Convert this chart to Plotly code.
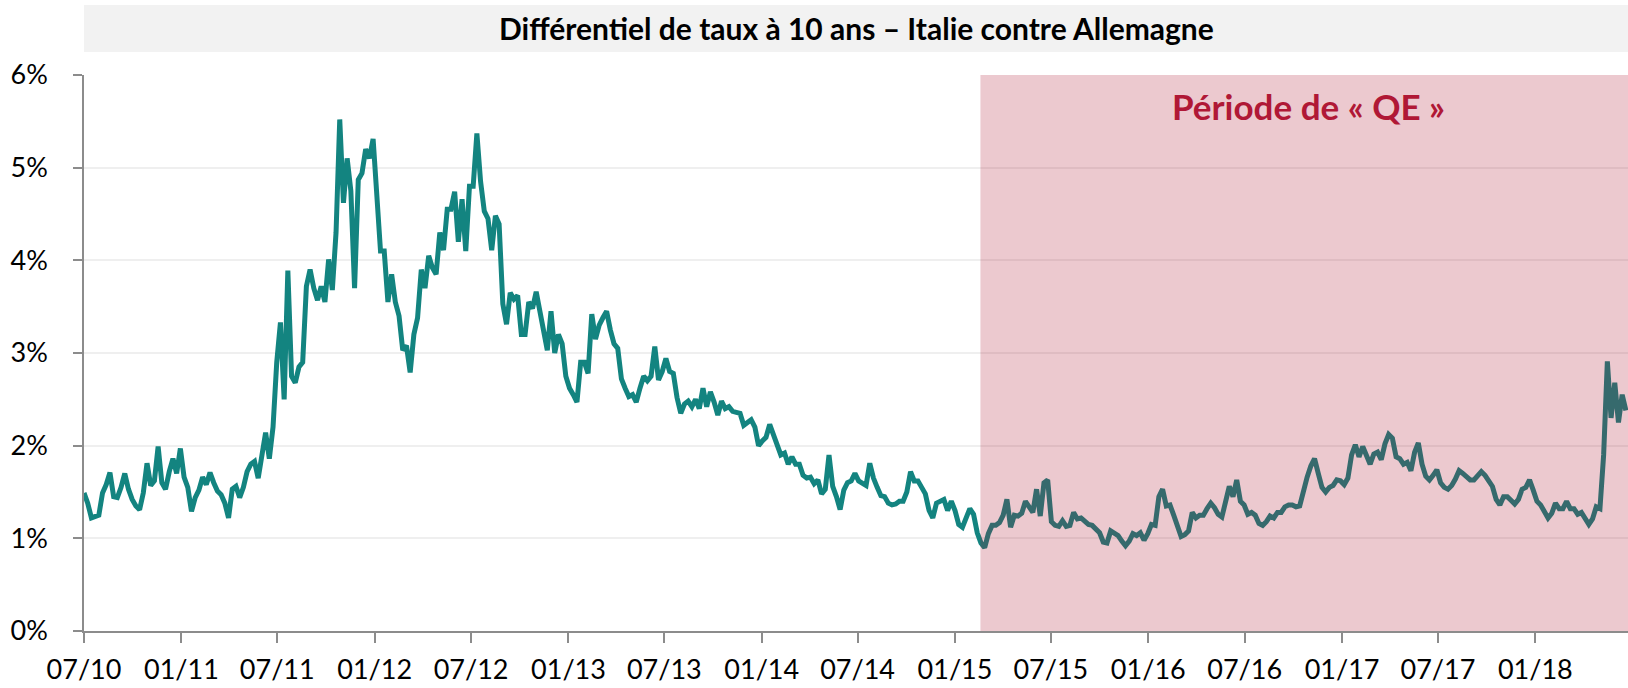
import pandas as pd
import plotly.graph_objects as go

# Weekly observations of the 10-year Italy-Germany yield spread (in %)
START_DATE = "2010-07-01"
QE_START = "2015-02-18"
X_END = "2018-06-25"

spread = [
    1.49, 1.38, 1.22, 1.24, 1.25, 1.49, 1.58, 1.71, 1.45, 1.44,
    1.55, 1.70, 1.53, 1.42, 1.35, 1.31, 1.49, 1.81, 1.57, 1.62,
    1.99, 1.60, 1.53, 1.72, 1.86, 1.70, 1.97, 1.66, 1.55, 1.29,
    1.44, 1.52, 1.66, 1.58, 1.71, 1.60, 1.51, 1.47, 1.38, 1.22,
    1.53, 1.56, 1.44, 1.55, 1.72, 1.80, 1.83, 1.65, 1.86, 2.14,
    1.86, 2.20, 2.90, 3.33, 2.50, 3.89, 2.75, 2.68, 2.85, 2.90,
    3.72, 3.90, 3.70, 3.57, 3.72, 3.55, 4.01, 3.68, 4.30, 5.52,
    4.62, 5.10, 4.75, 3.70, 4.87, 4.94, 5.20, 5.10, 5.31, 4.70,
    4.10, 4.10, 3.55, 3.85, 3.55, 3.40, 3.03, 3.08, 2.79, 3.20,
    3.38, 3.90, 3.70, 4.05, 3.92, 3.85, 4.30, 4.11, 4.55, 4.55,
    4.74, 4.20, 4.66, 4.10, 4.80, 4.80, 5.37, 4.85, 4.53, 4.45,
    4.11, 4.48, 4.39, 3.53, 3.31, 3.65, 3.58, 3.62, 3.20, 3.20,
    3.55, 3.48, 3.66, 3.45, 3.25, 3.03, 3.45, 3.00, 3.20, 3.10,
    2.75, 2.62, 2.55, 2.47, 2.90, 2.90, 2.78, 3.42, 3.15, 3.30,
    3.38, 3.45, 3.25, 3.10, 3.05, 2.72, 2.62, 2.53, 2.55, 2.47,
    2.62, 2.75, 2.70, 2.75, 3.07, 2.71, 2.80, 2.94, 2.80, 2.78,
    2.52, 2.35, 2.45, 2.48, 2.42, 2.50, 2.40, 2.62, 2.42, 2.58,
    2.47, 2.33, 2.48, 2.40, 2.42, 2.37, 2.36, 2.35, 2.22, 2.25,
    2.28, 2.20, 2.00, 2.05, 2.09, 2.23, 2.12, 2.02, 1.90, 1.92,
    1.80, 1.88, 1.80, 1.80, 1.68, 1.65, 1.66, 1.59, 1.63, 1.48,
    1.53, 1.90, 1.56, 1.45, 1.31, 1.52, 1.60, 1.62, 1.70, 1.62,
    1.60, 1.57, 1.81, 1.65, 1.55, 1.46, 1.45, 1.38, 1.36, 1.37,
    1.40, 1.40, 1.50, 1.72, 1.62, 1.62, 1.55, 1.48, 1.30, 1.22,
    1.38, 1.40, 1.42, 1.30, 1.40, 1.30, 1.15, 1.12, 1.22, 1.32,
    1.26, 1.06, 0.95, 0.90, 1.05, 1.14, 1.14, 1.17, 1.25, 1.42,
    1.12, 1.25, 1.24, 1.27, 1.40, 1.35, 1.28, 1.53, 1.24, 1.60,
    1.63, 1.18, 1.14, 1.13, 1.19, 1.13, 1.14, 1.28, 1.21, 1.22,
    1.18, 1.15, 1.14, 1.10, 1.06, 0.96, 0.95, 1.08, 1.05, 1.03,
    0.97, 0.92, 0.97, 1.05, 1.03, 1.06, 0.98, 1.05, 1.15, 1.14,
    1.45, 1.53, 1.35, 1.36, 1.25, 1.15, 1.02, 1.04, 1.08, 1.28,
    1.22, 1.25, 1.25, 1.32, 1.38, 1.33, 1.26, 1.23, 1.38, 1.56,
    1.45, 1.63, 1.40, 1.36, 1.26, 1.28, 1.25, 1.16, 1.14, 1.18,
    1.24, 1.22, 1.28, 1.28, 1.34, 1.36, 1.36, 1.34, 1.35, 1.52,
    1.66, 1.78, 1.86, 1.70, 1.55, 1.50, 1.55, 1.57, 1.63, 1.62,
    1.58, 1.65, 1.90, 2.01, 1.88, 1.99, 1.88, 1.80, 1.91, 1.93,
    1.85, 2.02, 2.12, 2.08, 1.88, 1.86, 1.80, 1.82, 1.73, 1.93,
    2.03, 1.80, 1.67, 1.63, 1.68, 1.74, 1.60, 1.55, 1.53, 1.57,
    1.64, 1.73, 1.70, 1.67, 1.63, 1.63, 1.68, 1.72, 1.68, 1.63,
    1.56, 1.42, 1.36, 1.45, 1.45, 1.41, 1.37, 1.42, 1.53, 1.55,
    1.63, 1.52, 1.40, 1.36, 1.28, 1.22, 1.27, 1.38, 1.32, 1.32,
    1.40, 1.32, 1.32, 1.26, 1.28, 1.22, 1.15, 1.21, 1.34, 1.32,
    1.90, 2.91, 2.30, 2.68, 2.25, 2.55, 2.38,
]

dates = pd.date_range(START_DATE, periods=len(spread), freq="7D")

y_tick_values = [0, 1, 2, 3, 4, 5, 6]
y_tick_labels = ["0%", "1%", "2%", "3%", "4%", "5%", "6%"]

TITLE = "Différentiel de taux à 10 ans – Italie contre Allemagne"
QE_LABEL = "Période de « QE »"

FONT = "Lato, 'Open Sans', sans-serif"
TEAL = "#138480"
CRIMSON = "rgb(176,24,54)"

fig = go.Figure()
fig.add_trace(go.Scatter(
    x=dates, y=spread, mode="lines",
    line=dict(color=TEAL, width=5),
    hoverinfo="x+y", showlegend=False,
))

# Grey title band above the plot
fig.add_shape(type="rect", xref="paper", yref="paper",
              x0=0, x1=1, y0=1.0414, y1=1.1259,
              fillcolor="#F2F2F2", line=dict(width=0), layer="below")
fig.add_annotation(text=f"<b>{TITLE}</b>", xref="paper", yref="paper",
                   x=0.5, y=1.0837, xanchor="center", yanchor="middle",
                   showarrow=False, font=dict(family=FONT, size=30, color="#000000"))

# Shaded QE period, translucent over the line
fig.add_shape(type="rect", xref="x", yref="y",
              x0=QE_START, x1=X_END, y0=0, y1=6,
              fillcolor="rgba(172,22,49,0.23)", line=dict(width=0), layer="above")
fig.add_annotation(text=f"<b>{QE_LABEL}</b>", xref="paper", yref="paper",
                   x=0.793, y=0.945, xanchor="center", yanchor="middle",
                   showarrow=False, font=dict(family=FONT, size=35, color=CRIMSON))

fig.update_layout(
    width=1628, height=688,
    margin=dict(l=84, r=0, t=75, b=57, pad=0),
    paper_bgcolor="white", plot_bgcolor="white",
    font=dict(family=FONT, size=27, color="#000000"),
    xaxis=dict(
        type="date", range=[START_DATE, X_END],
        tick0=START_DATE, dtick="M6", tickformat="%m/%y",
        ticks="outside", ticklen=10, tickwidth=1.5, tickcolor="#8C8C8C",
        showline=True, linecolor="#8C8C8C", linewidth=2,
        showgrid=False, zeroline=False,
        tickfont=dict(family=FONT, size=27, color="#000000"),
        ticklabelstandoff=4,
    ),
    yaxis=dict(
        range=[0, 6], tickvals=y_tick_values, ticktext=y_tick_labels,
        ticks="outside", ticklen=9, tickwidth=1.5, tickcolor="#8C8C8C",
        showline=True, linecolor="#8C8C8C", linewidth=1.5,
        showgrid=True, gridcolor="#EFEFEF", gridwidth=1.5,
        zeroline=False,
        tickfont=dict(family=FONT, size=27, color="#000000"),
        ticklabelstandoff=20,
    ),
)

fig.write_html("out.html")
